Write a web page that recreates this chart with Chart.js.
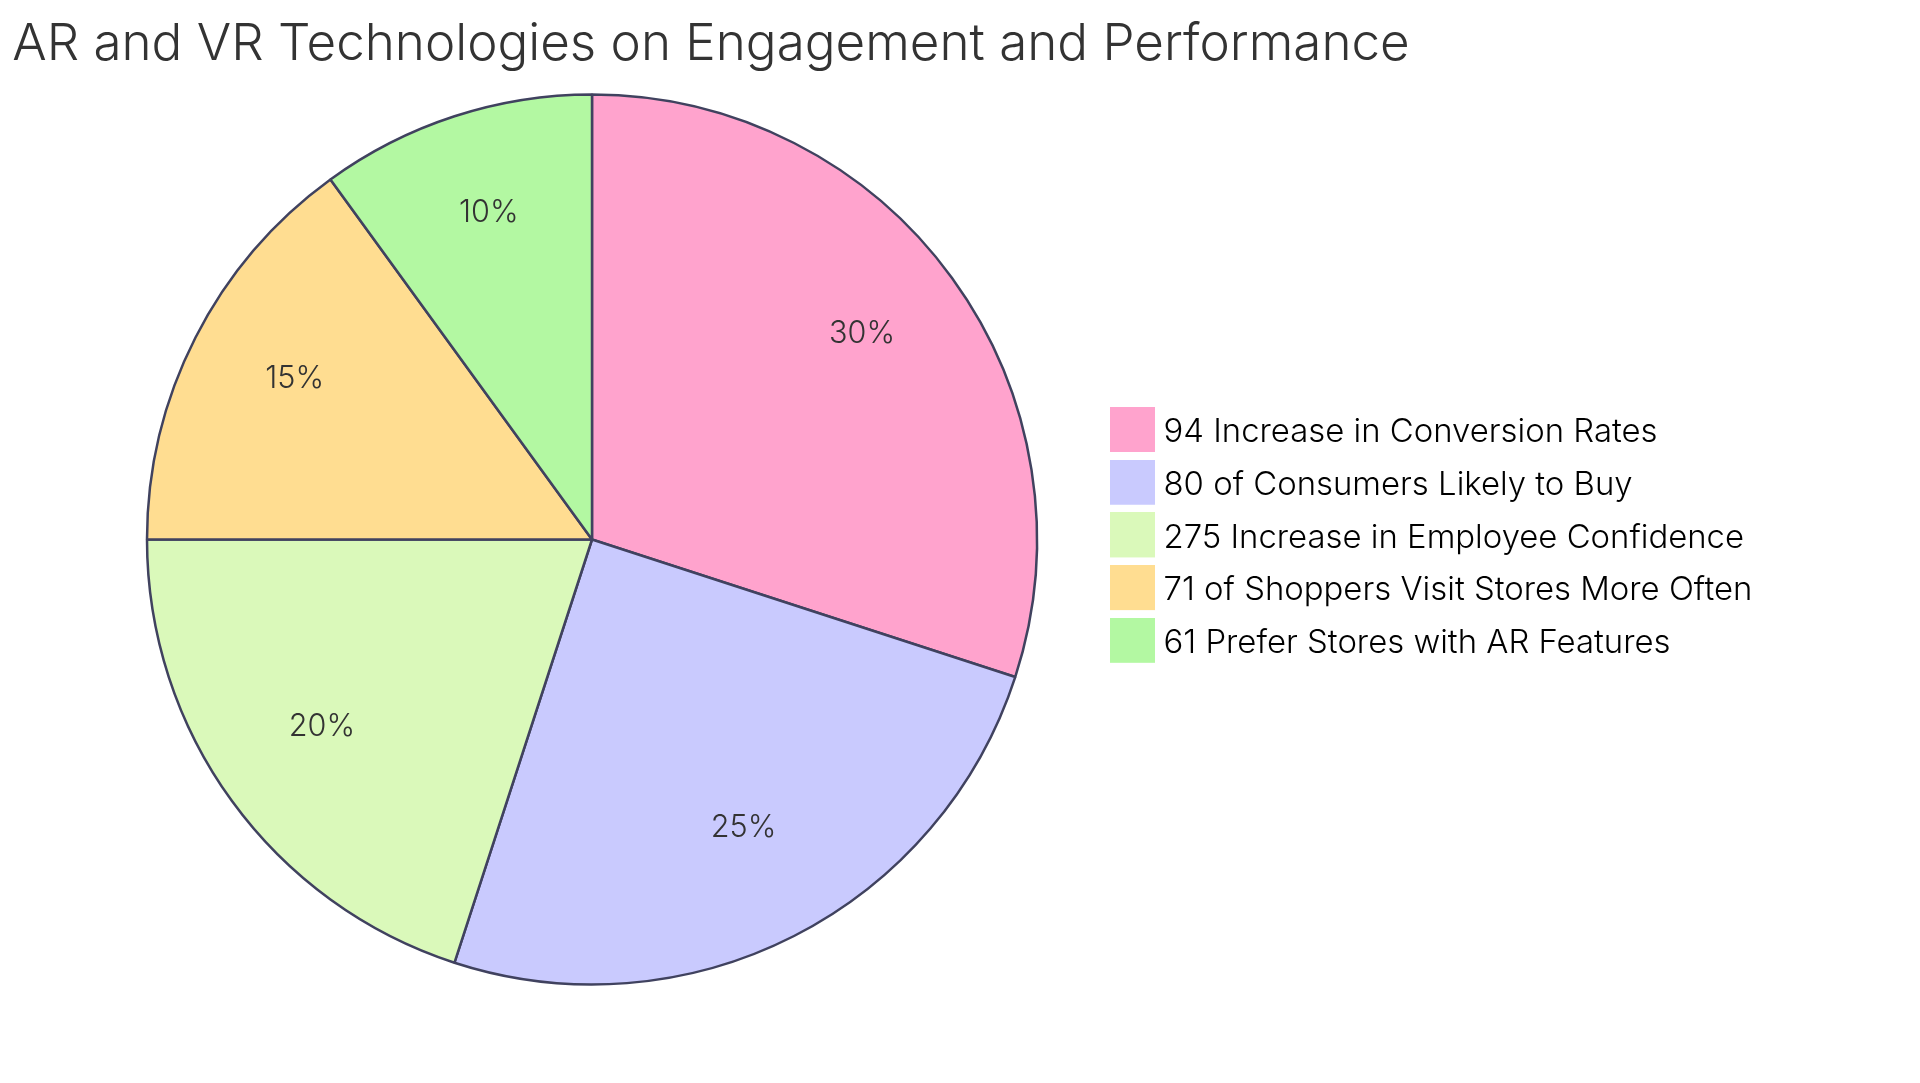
<!DOCTYPE html>
<html>
<head>
<meta charset="utf-8">
<script src="https://cdn.jsdelivr.net/npm/chart.js@4.4.1/dist/chart.umd.min.js"></script>
<style>
  html, body { margin: 0; padding: 0; background: #ffffff; overflow: hidden; }
  #wrap { width: 1920px; height: 1083px; position: relative; }
  canvas { display: block; }
</style>
</head>
<body>
<div id="wrap"><canvas id="c" width="1920" height="1083"></canvas></div>
<script>
// ---- data ----
const chartTitle = 'Impact of AR and VR Technologies on Engagement and Performance';
const categories = [
  '94 Increase in Conversion Rates',
  '80 of Consumers Likely to Buy',
  '275 Increase in Employee Confidence',
  '71 of Shoppers Visit Stores More Often',
  '61 Prefer Stores with AR Features'
];
const values = [30, 25, 20, 15, 10];

// ---- style ----
const sliceColors = ['#FFA3CD', '#C9CAFE', '#DAF9BA', '#FFDD91', '#B3F8A2'];
const strokeColor = '#40425F';
const textColor = '#333333';
const FONT = 'Inter, "Open Sans", "DejaVu Sans", sans-serif';
const WEIGHT = '300';

// ---- layout ----
const W_CANVAS = 1920, H_CANVAS = 1083;
const CX = 592, CY = 539.5, R = 445;
const LEG_BOX = 45, LEG_BOX_CX = 1132.5, LEG_FIRST_CY = 429.5, LEG_ROW = 52.7, LEG_TEXT_X = 1163.5;
const LEG_TEXT_DROP = 3; // text sits slightly lower than the swatch centre
const TITLE_BASELINE = 60;

function fontStr(size) { return WEIGHT + ' ' + size + 'px ' + FONT; }

function measure(text, size) {
  const c = document.createElement('canvas').getContext('2d');
  c.font = fontStr(size);
  return c.measureText(text).width;
}

function build() {
  // font sizes chosen so text widths match the picture
  const legendFs = 100 * 589 / measure(categories[3], 100);
  const titleFs = 100 * 1636 / measure(chartTitle, 100);
  const labelFs = legendFs * 0.93;

  const pad = LEG_ROW - legendFs;            // legend labels.padding
  const pW = 2 * (LEG_TEXT_X - legendFs / 2 - LEG_BOX_CX); // point style width
  const legendLeft = LEG_BOX_CX - pW / 2 - pad;
  const padLeft = 2 * CX - legendLeft;
  const padTop = CY - R - 1.25;
  const padBottom = H_CANVAS - (CY + R + 1.25);

  // square swatches as point styles (drawn above the image centre so the text sits lower)
  const swatches = sliceColors.map(col => {
    const cv = document.createElement('canvas');
    cv.width = LEG_BOX; cv.height = LEG_BOX + 2 * LEG_TEXT_DROP;
    const g = cv.getContext('2d');
    g.fillStyle = col;
    g.fillRect(0, 0, LEG_BOX, LEG_BOX);
    return cv;
  });

  const titlePlugin = {
    id: 'pieTitle',
    afterDraw(chart) {
      const ctx = chart.ctx;
      const a = chart.chartArea;
      ctx.save();
      ctx.font = fontStr(titleFs);
      ctx.fillStyle = textColor;
      ctx.textAlign = 'center';
      ctx.textBaseline = 'alphabetic';
      ctx.fillText(chartTitle, (a.left + a.right) / 2, TITLE_BASELINE);
      ctx.restore();
    }
  };

  const sliceLabels = {
    id: 'sliceLabels',
    afterDatasetsDraw(chart) {
      const ctx = chart.ctx;
      const meta = chart.getDatasetMeta(0);
      const ds = chart.data.datasets[0].data;
      const total = ds.reduce((s, v) => s + v, 0);
      ctx.save();
      ctx.font = fontStr(labelFs);
      ctx.fillStyle = textColor;
      ctx.textAlign = 'center';
      ctx.textBaseline = 'alphabetic';
      meta.data.forEach((arc, i) => {
        const p = arc.getProps(['x', 'y', 'startAngle', 'endAngle', 'outerRadius'], true);
        const mid = (p.startAngle + p.endAngle) / 2;
        const rr = p.outerRadius * 0.75;
        const txt = Math.round(ds[i] / total * 100) + '%';
        ctx.fillText(txt, p.x + Math.cos(mid) * rr, p.y + Math.sin(mid) * rr);
      });
      ctx.restore();
    }
  };

  const legendShift = {
    id: 'legendShift',
    afterLayout(chart) {
      const lg = chart.legend;
      if (!lg) return;
      const colH = categories.length * (legendFs + pad);
      const y0 = (lg.top + pad + lg.bottom - colH) / 2;
      const delta = (y0 + legendFs / 2) - (LEG_FIRST_CY + LEG_TEXT_DROP);
      lg.top -= delta;
      lg.bottom -= delta;
    }
  };

  const chart = new Chart(document.getElementById('c'), {
    type: 'pie',
    data: {
      labels: categories,
      datasets: [{
        data: values,
        backgroundColor: sliceColors,
        borderColor: strokeColor,
        borderWidth: 2.5,
        hoverOffset: 0
      }]
    },
    options: {
      responsive: false,
      animation: false,
      events: [],
      radius: R,
      layout: { padding: { left: padLeft, right: 0, top: padTop, bottom: padBottom } },
      plugins: {
        title: { display: false },
        tooltip: { enabled: false },
        legend: {
          display: true,
          position: 'right',
          align: 'center',
          labels: {
            usePointStyle: true,
            pointStyleWidth: pW,
            padding: pad,
            color: textColor,
            font: { family: FONT, size: legendFs, weight: WEIGHT },
            generateLabels(chart) {
              return chart.data.labels.map((t, i) => ({
                text: t,
                fillStyle: sliceColors[i],
                strokeStyle: sliceColors[i],
                lineWidth: 0,
                pointStyle: swatches[i],
                hidden: false,
                index: i
              }));
            }
          }
        }
      }
    },
    plugins: [titlePlugin, sliceLabels, legendShift]
  });

  // put the legend's left edge where the picture has it
  const diff = chart.legend.left - legendLeft;
  chart.options.layout.padding.right = Math.max(0, diff);
  chart.update();
}

if (document.fonts && document.fonts.load) {
  document.fonts.load('300 32px Inter').then(build, build);
} else {
  build();
}
</script>
</body>
</html>
